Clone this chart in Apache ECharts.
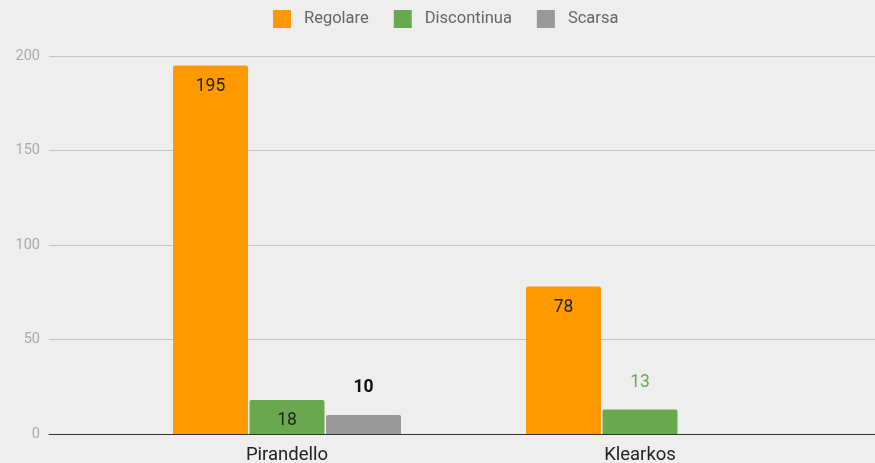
<!DOCTYPE html>
<html>
<head>
<meta charset="utf-8">
<script src="https://cdn.jsdelivr.net/npm/echarts@6/dist/echarts.min.js"></script>
<style>html,body{margin:0;padding:0;background:#eeeeee;}#c{width:875px;height:463px;}</style>
</head>
<body>
<div id="c"></div>
<script>
const categories = ['Pirandello', 'Klearkos'];
const seriesNames = ['Regolare', 'Discontinua', 'Scarsa'];
const regolare = [195, 78];
const discontinua = [18, 13];
const scarsa = [10, null];
const yTicks = [0, 50, 100, 150, 200];

const colors = ['#ff9900', '#6aa84f', '#999999'];
// label placement per data point as in the reference
const labelCfg = [
  [{pos: 'insideTop', color: '#222', bold: false}, {pos: 'insideTop', color: '#222', bold: false}],
  [{pos: 'insideTop', color: '#222', bold: false}, {pos: 'top', color: '#6aa84f', bold: false}],
  [{pos: 'top', color: '#111', bold: true}, {pos: 'top', color: '#111', bold: false}]
];
const allData = [regolare, discontinua, scarsa];

const chart = echarts.init(document.getElementById('c'));
const font = 'Roboto, "Noto Sans", sans-serif';

const series = allData.map((arr, si) => ({
  name: seriesNames[si],
  type: 'bar',
  xAxisIndex: 1,
  yAxisIndex: 1,
  barWidth: 75,
  barGap: '2%',
  itemStyle: {color: colors[si], borderRadius: [2, 2, 0, 0]},
  data: arr.map((v, i) => {
    const c = labelCfg[si][i];
    return {
      value: v,
      label: {
        show: v != null,
        position: c.pos,
        distance: c.pos === 'top' ? 18 : 12,
        color: c.color,
        fontWeight: c.bold ? 'bold' : 'normal',
        fontSize: 17.5,
        fontFamily: font
      }
    };
  })
}));

chart.setOption({
  backgroundColor: '#eeeeee',
  animation: false,
  legend: {
    top: 5,
    left: 268,
    data: seriesNames,
    icon: 'rect',
    itemWidth: 18,
    itemHeight: 18,
    itemGap: 25,
    textStyle: {color: '#666', fontSize: 16.5, fontFamily: font, padding: [0, 0, 0, 8]}
  },
  grid: [
    {left: 49, right: 0, top: 56, bottom: 29, containLabel: false, outerBoundsMode: 'none'},
    {left: 110.5, right: 58.5, top: 56, bottom: 29, containLabel: false, outerBoundsMode: 'none'}
  ],
  xAxis: [
    {
      type: 'category', gridIndex: 0, data: categories,
      axisLine: {show: true, lineStyle: {color: '#333', width: 1}},
      axisTick: {show: false}, axisLabel: {show: false}
    },
    {
      type: 'category', gridIndex: 1, data: categories,
      axisLine: {show: false}, axisTick: {show: false},
      axisLabel: {color: '#222', fontSize: 18.5, fontFamily: font, margin: 12}
    }
  ],
  yAxis: [
    {
      type: 'value', gridIndex: 0, min: yTicks[0], max: yTicks[yTicks.length - 1], interval: 50,
      axisLine: {show: false}, axisTick: {show: false},
      axisLabel: {color: '#aaaaaa', fontSize: 14.5, fontFamily: font, margin: 9},
      splitLine: {lineStyle: {color: '#c4c4c4', width: 1}}
    },
    {
      type: 'value', gridIndex: 1, min: yTicks[0], max: yTicks[yTicks.length - 1], interval: 50,
      axisLine: {show: false}, axisTick: {show: false},
      axisLabel: {show: false}, splitLine: {show: false}
    }
  ],
  series: series
});
</script>
</body>
</html>
